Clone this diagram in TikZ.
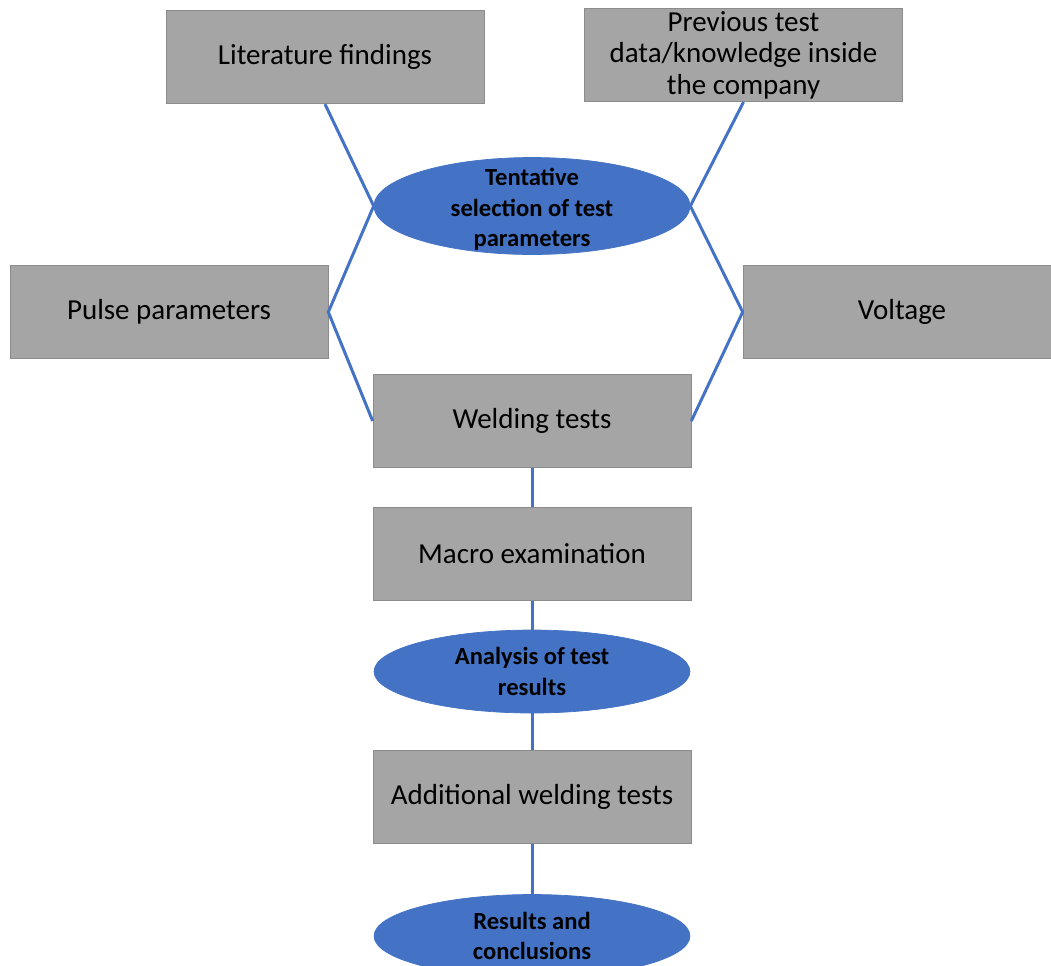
\documentclass[tikz,border=0pt]{standalone}
\usepackage{fontspec}
\setmainfont{Carlito}
\usetikzlibrary{shapes.geometric}
\definecolor{boxgray}{HTML}{A5A5A5}
\definecolor{boxline}{HTML}{8C8C8C}
\definecolor{linkblue}{HTML}{4472C4}

\begin{document}
\begin{tikzpicture}[x=0.02cm,y=-0.02cm,
    greybox/.style={draw=boxline,fill=boxgray,minimum width=6.36cm,minimum height=1.87cm,
      align=center,font=\fontsize{16.5}{18}\selectfont,inner sep=0pt},
    blueoval/.style={ellipse,draw=linkblue,fill=linkblue,minimum width=6.32cm,inner sep=0pt},
    ovaltext/.style={align=center,font=\bfseries\fontsize{14}{17.5}\selectfont,inner sep=0pt},
    link/.style={linkblue,line width=1.7pt}]
    \useasboundingbox (0,0) rectangle (1051,965);
    \node[greybox] (lit) at (325,57) {Literature findings};
    \node[greybox] (prev) at (743.5,55) {Previous test\\ data/knowledge inside\\ the company};
    \node[blueoval,minimum height=1.94cm,label={[ovaltext,yshift=-2pt]center:Tentative\\ selection of test\\ parameters}] (tent) at (532,206) {};
    \node[greybox] (pulse) at (169,312) {Pulse parameters};
    \node[greybox] (volt) at (902,312) {Voltage};
    \node[greybox] (weld) at (532,421) {Welding tests};
    \node[greybox] (macro) at (532,554) {Macro examination};
    \node[blueoval,minimum height=1.66cm,label={[ovaltext]center:Analysis of test\\ results}] (anal) at (532,671.5) {};
    \node[greybox] (addw) at (532,797) {Additional welding tests};
    \node[blueoval,minimum height=1.66cm,label={[ovaltext]center:Results and\\ conclusions}] (res) at (532,936) {};
    \draw[link] (lit.south) -- (tent.west) -- (pulse.east) -- (weld.west);
    \draw[link] (prev.south) -- (tent.east) -- (volt.west) -- (weld.east);
    \draw[link] (weld) -- (macro);
    \draw[link] (macro) -- (anal);
    \draw[link] (anal) -- (addw);
    \draw[link] (addw) -- (res);
  \end{tikzpicture}
\end{document}
